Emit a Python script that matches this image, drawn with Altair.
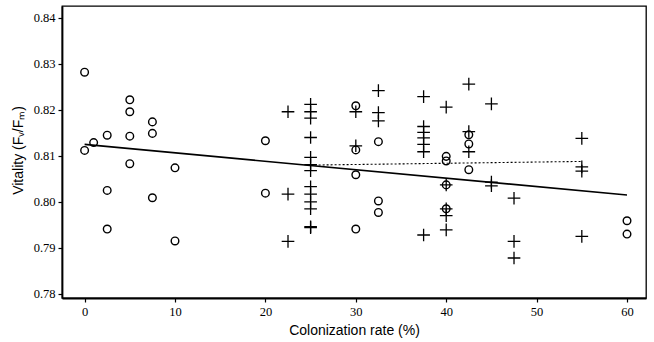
import altair as alt
import pandas as pd

# Open circles
circle_x = [0, 0, 1, 2.5, 2.5, 2.5, 5, 5, 5, 5, 7.5, 7.5, 7.5, 10, 10,
            20, 20, 30, 30, 30, 30, 32.5, 32.5, 32.5,
            40, 40, 40, 40, 42.5, 42.5, 42.5, 60, 60]
circle_y = [0.8282, 0.8112, 0.8129, 0.8145, 0.8025, 0.7941,
            0.8222, 0.8196, 0.8143, 0.8083,
            0.8174, 0.8149, 0.8009, 0.8074, 0.7915,
            0.8133, 0.8019, 0.8209, 0.8113, 0.8059, 0.7941,
            0.8131, 0.8002, 0.7977,
            0.8099, 0.8089, 0.8037, 0.7985,
            0.8146, 0.8126, 0.8070, 0.7959, 0.7930]

# Crosses
cross_x = [22.5, 22.5, 22.5,
           25, 25, 25, 25, 25, 25, 25, 25, 25, 25, 25, 25, 25,
           30, 30, 32.5, 32.5, 32.5,
           37.5, 37.5, 37.5, 37.5, 37.5, 37.5, 37.5,
           40, 40, 40, 40, 40,
           42.5, 42.5, 42.5, 45, 45, 45,
           47.5, 47.5, 47.5, 55, 55, 55, 55]
cross_y = [0.8196, 0.8017, 0.7914,
           0.8212, 0.8196, 0.8182, 0.8140, 0.8097, 0.8081, 0.8068, 0.8033,
           0.8017, 0.8000, 0.7985, 0.7946, 0.7944,
           0.8196, 0.8122, 0.8242, 0.8194, 0.8176,
           0.8229, 0.8164, 0.8151, 0.8139, 0.8125, 0.8109, 0.7928,
           0.8206, 0.8037, 0.7985, 0.7970, 0.7939,
           0.8256, 0.8153, 0.8109, 0.8213, 0.8043, 0.8035,
           0.8008, 0.7914, 0.7878, 0.8138, 0.8076, 0.8067, 0.7925]

# Fitted lines (endpoints)
solid_x = [0, 60]
solid_y = [0.8125, 0.8015]
dotted_x = [25, 55]
dotted_y = [0.8080, 0.8088]

y_ticks = [0.78, 0.79, 0.80, 0.81, 0.82, 0.83, 0.84]
x_ticks = [0, 10, 20, 30, 40, 50, 60]

circles = pd.DataFrame({"x": circle_x, "y": circle_y})
crosses = pd.DataFrame({"x": cross_x, "y": cross_y})
solid = pd.DataFrame({"x": solid_x, "y": solid_y})
dotted = pd.DataFrame({"x": dotted_x, "y": dotted_y})

xs = alt.Scale(domain=[-2.5, 62.1], nice=False, zero=False)
ys = alt.Scale(domain=[0.7791, 0.8426], nice=False, zero=False)

x_axis = alt.Axis(values=x_ticks, title="Colonization rate (%)", grid=False,
                  format="d", tickSize=4, labelPadding=3,
                  labelFont="Liberation Sans Narrow", labelFontSize=12.5,
                  titleFont="Liberation Sans", titleFontSize=14, titleFontWeight="normal",
                  titleX=292, titleY=36, titleBaseline="alphabetic")
y_axis = alt.Axis(values=y_ticks, title="Vitality (Fᵥ/Fₘ)", grid=False,
                  format=".2f", tickSize=4, labelPadding=3,
                  labelFont="Liberation Sans Narrow", labelFontSize=12.5,
                  titleFont="Liberation Sans", titleFontSize=14, titleFontWeight="normal",
                  titleX=-44, titleY=144, titleBaseline="middle", titleAngle=-90)

base_x = alt.X("x:Q", scale=xs, axis=x_axis)
base_y = alt.Y("y:Q", scale=ys, axis=y_axis)

c_layer = alt.Chart(circles).mark_point(shape="circle", filled=False, color="black",
                                       size=58, strokeWidth=1.4, opacity=1).encode(x=base_x, y=base_y)
p_layer = alt.Chart(crosses).mark_point(shape="M-1,0L1,0M0,-1L0,1", filled=False, color="black",
                                       size=160, strokeWidth=1.3, opacity=1).encode(
    x=alt.X("x:Q", scale=xs), y=alt.Y("y:Q", scale=ys))
s_layer = alt.Chart(solid).mark_line(color="black", strokeWidth=1.6).encode(
    x=alt.X("x:Q", scale=xs), y=alt.Y("y:Q", scale=ys))
d_layer = alt.Chart(dotted).mark_line(color="black", strokeWidth=1.1, strokeDash=[2, 2]).encode(
    x=alt.X("x:Q", scale=xs), y=alt.Y("y:Q", scale=ys))

chart = alt.layer(c_layer, p_layer, s_layer, d_layer).properties(
    width=584, height=292,
    autosize=alt.AutoSizeParams(type="none"),
    padding={"left": 62, "top": 6, "right": 8, "bottom": 44},
    background="white",
).configure_view(stroke="black", strokeWidth=1.3).configure_axis(
    domainColor="black", domainWidth=1.8, tickColor="black", tickWidth=1.2,
    labelColor="black", titleColor="black")

chart.save("out.html", embed_options={"renderer": "svg", "actions": False})
